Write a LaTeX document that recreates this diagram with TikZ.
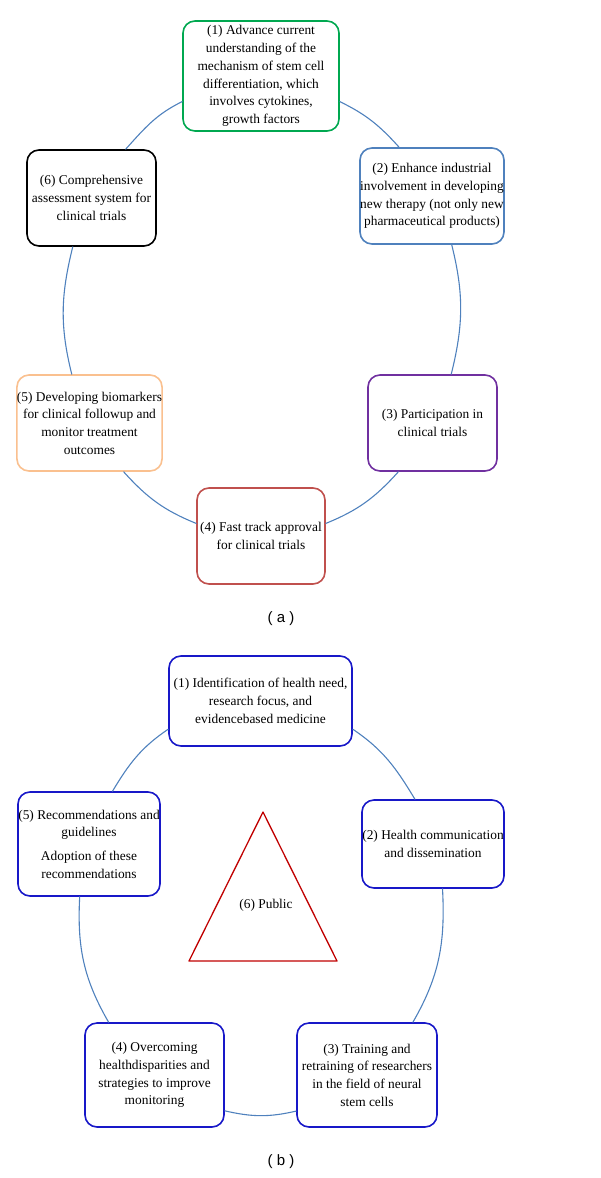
\documentclass[tikz,border=0pt]{standalone}
\usepackage{fontspec}
\setmainfont{Liberation Serif}
\newfontfamily\labelfont{Liberation Sans}
\usetikzlibrary{calc}
\definecolor{ringblue}{RGB}{79,129,189}
\definecolor{boxgreen}{RGB}{0,168,80}
\definecolor{boxpurple}{RGB}{112,48,160}
\definecolor{boxred}{RGB}{192,80,77}
\definecolor{boxorange}{RGB}{250,192,143}
\definecolor{boxnavy}{RGB}{24,24,200}
\definecolor{trired}{RGB}{192,0,0}

\begin{document}
\begin{tikzpicture}[x=1pt,y=1pt,line cap=round,line join=round,
  item/.style={draw,rounded corners=12pt,line width=1.6pt,fill=white,align=center,
    inner sep=0pt,font=\fontsize{13.4}{17.7}\selectfont},
  ring/.style={draw=ringblue,line width=1.1pt}]
\useasboundingbox (0,0) rectangle (600,-1178);
%% (a)
\node[item,draw=boxgreen,minimum width=156,minimum height=110] (a1) at (261,-76) {(1) Advance current\\ understanding of the\\ mechanism of stem cell\\ differentiation, which\\ involves cytokines,\\ growth factors};
\node[item,draw=ringblue,minimum width=144,minimum height=96] (a2) at (432,-196) {(2) Enhance industrial\\ involvement in developing\\ new therapy (not only new\\ pharmaceutical products)};
\node[item,draw=boxpurple,minimum width=129,minimum height=96] (a3) at (432.5,-423) {(3) Participation in\\ clinical trials};
\node[item,draw=boxred,minimum width=128,minimum height=96] (a4) at (261,-536) {(4) Fast track approval\\ for clinical trials};
\node[item,draw=boxorange,minimum width=143,minimum height=96] (a5) at (89.5,-423) {(5) Developing biomarkers\\ for clinical followup and\\ monitor treatment\\ outcomes};
\node[item,draw=black,minimum width=129,minimum height=96] (a6) at (91.5,-198) {(6) Comprehensive\\ assessment system for\\ clinical trials};
\draw[ring] (a1.198) to[out=206,in=48] (a6.55);
\draw[ring] (a1.342) to[out=-26,in=132] (a2.124);
\draw[ring] (a6.249) to[out=256,in=104] (a5.110);
\draw[ring] (a2.292) to[out=-76,in=76] (a3.69);
\draw[ring] (a5.305) to[out=-48,in=158] (a4.169);
\draw[ring] (a3.235) to[out=228,in=22] (a4.11);
\node[font=\labelfont\fontsize{15}{18}\selectfont] (capa) at (281,-619) {( a )};
%% (b)
\node[item,draw=boxnavy,minimum width=183,minimum height=90] (b1) at (260.5,-701) {(1) Identification of health need,\\ research focus, and\\ evidencebased medicine};
\node[item,draw=boxnavy,minimum width=142,minimum height=88] (b2) at (433,-844) {(2) Health communication\\ and dissemination};
\node[item,draw=boxnavy,minimum width=140,minimum height=104] (b3) at (367,-1075) {(3) Training and\\ retraining of researchers\\ in the field of neural\\ stem cells};
\node[item,draw=boxnavy,minimum width=139,minimum height=104] (b4) at (154.5,-1075) {(4) Overcoming\\ healthdisparities and\\ strategies to improve\\ monitoring};
\node[item,draw=boxnavy,minimum width=142,minimum height=104] (b5) at (89,-844) {(5) Recommendations and\\ guidelines\\[6pt] Adoption of these\\ recommendations};
\draw[ring] (b1.197) to[out=214,in=59] (b5.66);
\draw[ring] (b1.343) to[out=-34,in=121] (b2.112);
\draw[ring] (b5.260) to[out=267,in=120] (b4.131);
\draw[ring] (b2.282) to[out=-87,in=60] (b3.49);
\draw[ring] (b4.333) to[out=-13,in=193] (b3.207);
\draw[trired,line width=1.3pt] (263,-812) -- (337,-961) -- (189,-961) -- cycle;
\node[font=\fontsize{13.4}{17.7}\selectfont] (b6) at (266,-905) {(6) Public};
\node[font=\labelfont\fontsize{15}{18}\selectfont] (capb) at (281,-1162) {( b )};
\end{tikzpicture}
\end{document}
